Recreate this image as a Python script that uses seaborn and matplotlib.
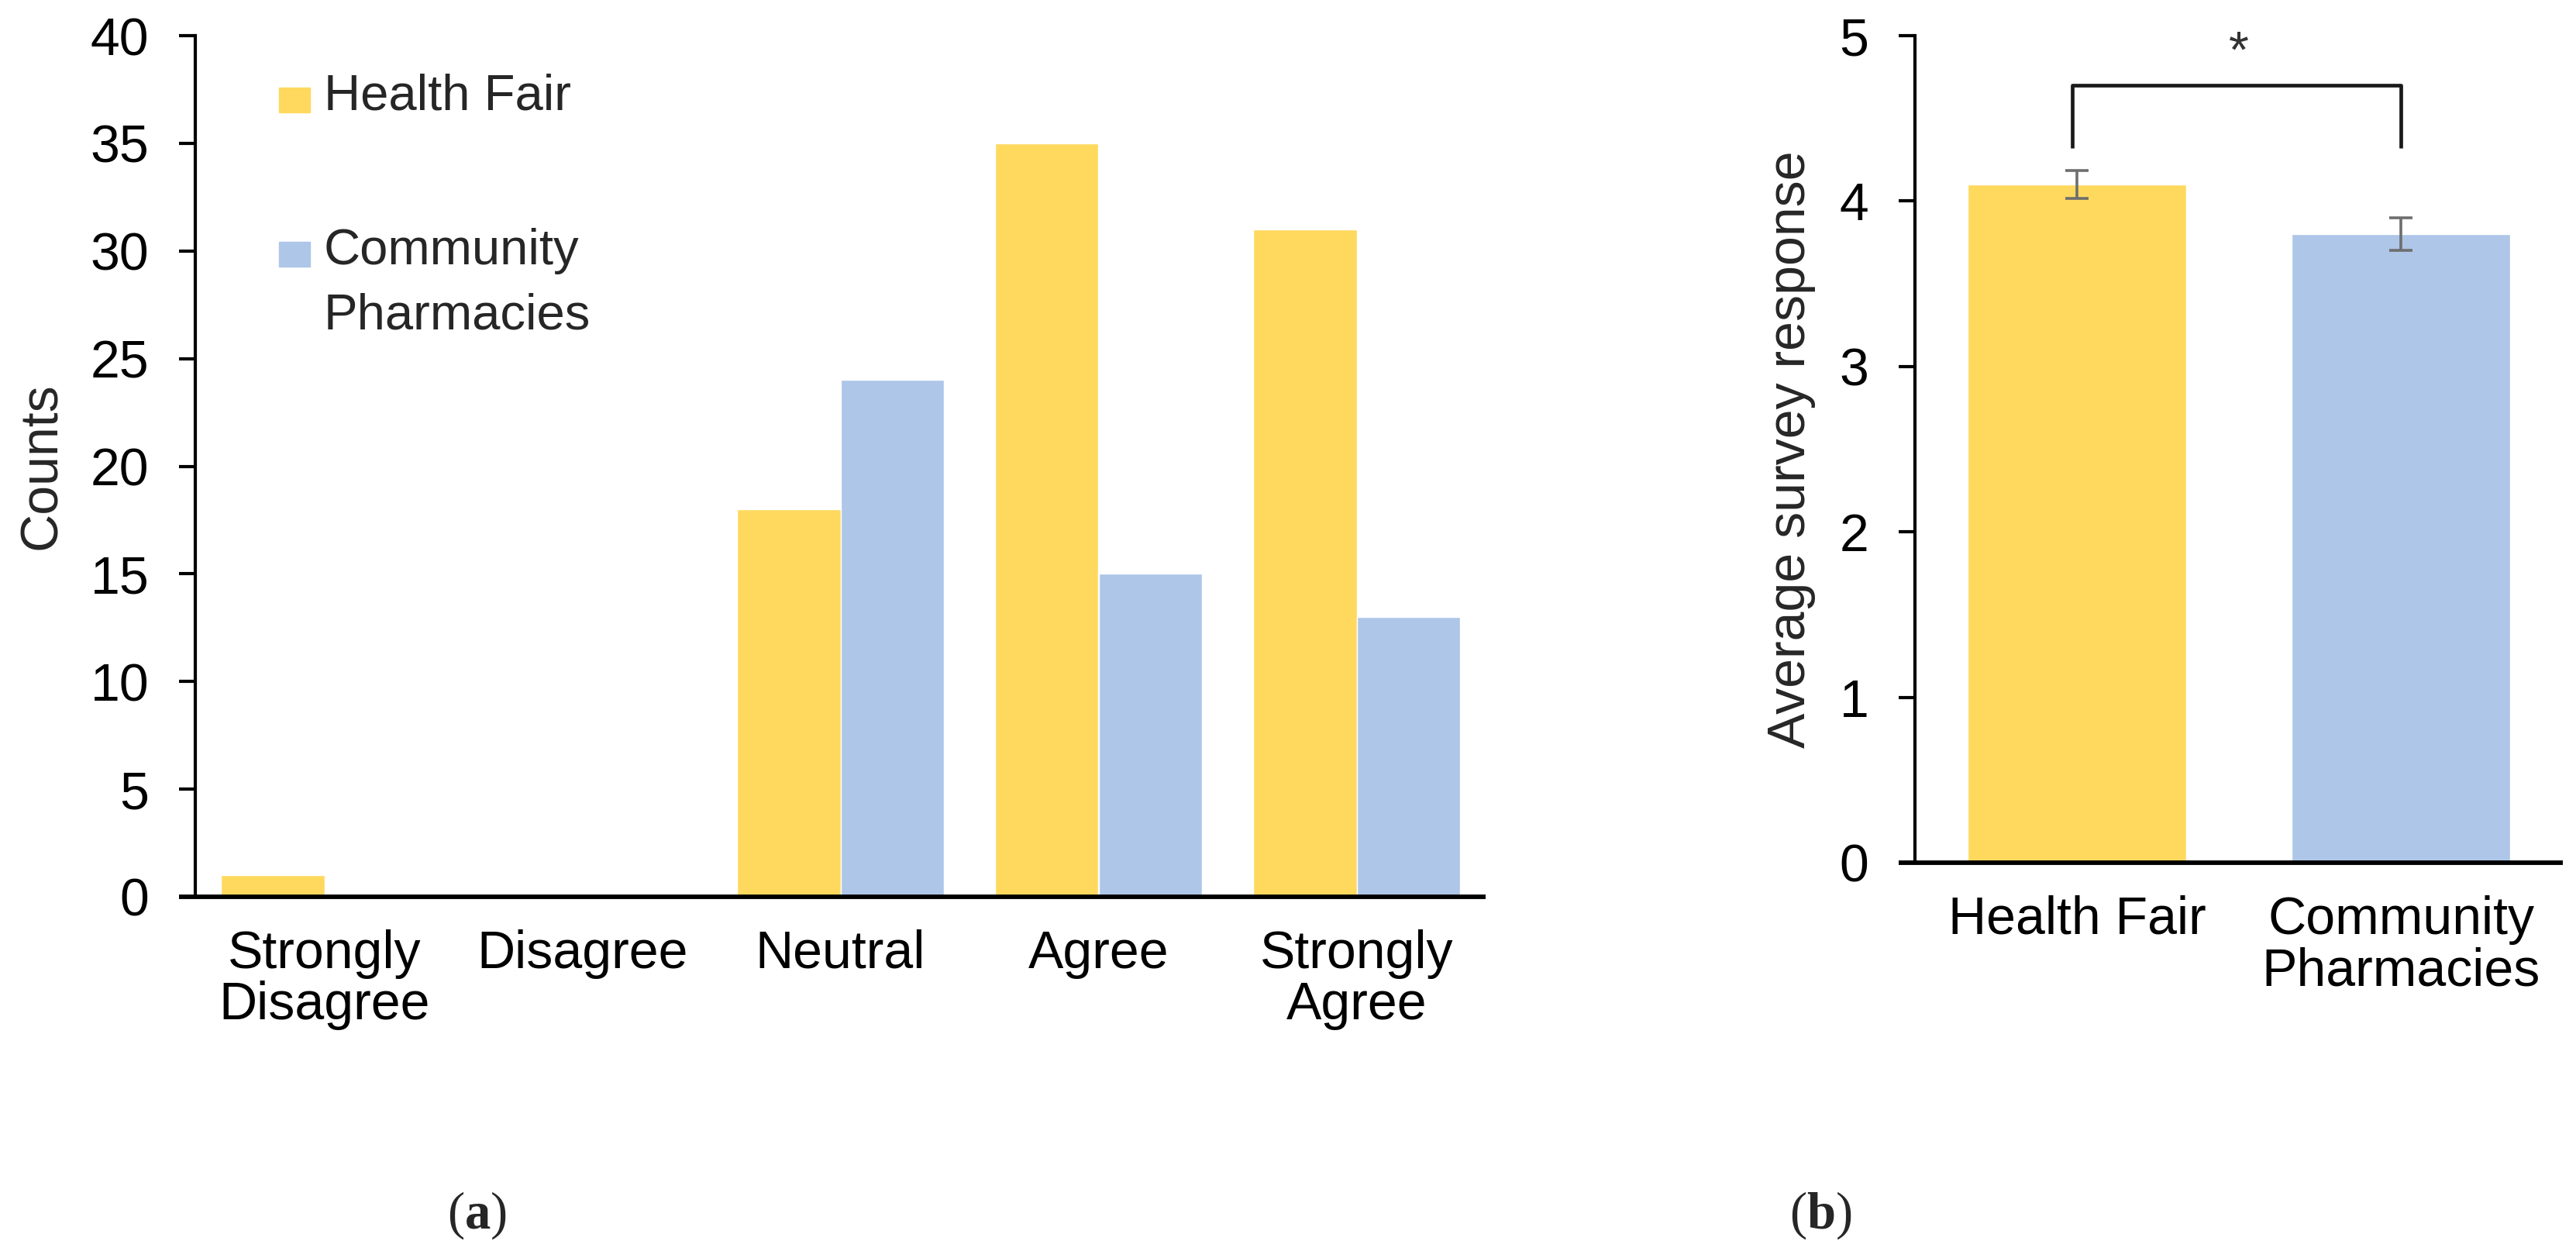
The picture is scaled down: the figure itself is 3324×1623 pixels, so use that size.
import matplotlib
matplotlib.use('Agg')
import matplotlib.pyplot as plt
import seaborn as sns
import pandas as pd
from matplotlib.patches import Rectangle

# 数据
categories = ['Strongly\nDisagree', 'Disagree', 'Neutral', 'Agree', 'Strongly\nAgree']
health_fair = [1, 0, 18, 35, 31]
community = [0, 0, 24, 15, 13]
groups = ['Health Fair', 'Community\nPharmacies']
avg_response = [4.1, 3.8]
avg_err = [0.085, 0.10]

YELLOW = '#FFD95E'
BLUE = '#AEC6E8'

sns.set_theme(style='white')
plt.rcParams['font.family'] = ['Liberation Sans', 'DejaVu Sans']
plt.rcParams['mathtext.fontset'] = 'custom'
plt.rcParams['mathtext.rm'] = 'Liberation Serif'
plt.rcParams['mathtext.bf'] = 'Liberation Serif:bold'

W, H = 33.24, 16.23
FS = 49
LW = 3.0
TICK_LEN = 15

fig = plt.figure(figsize=(W, H), dpi=100)
# 轴位置 (像素换算成比例)
ax1 = fig.add_axes([252 / 3324, 1 - 1157 / 1623, 1665 / 3324, 1111 / 1623])
ax2 = fig.add_axes([2471 / 3324, 1 - 1113 / 1623, 836 / 3324, 1067 / 1623])

# ============ (a) 计数柱状图 ============
df = pd.DataFrame({
    'category': categories * 2,
    'count': health_fair + community,
    'group': ['Health Fair'] * 5 + ['Community Pharmacies'] * 5,
})
sns.barplot(data=df, x='category', y='count', hue='group', order=categories,
            palette=[YELLOW, BLUE], width=0.8, errorbar=None, saturation=1,
            legend=False, ax=ax1)
ax1.set_ylim(0, 40)
ax1.set_xlim(-0.5, 4.5)
ax1.set_yticks(range(0, 41, 5))
ax1.set_xlabel('')
ax1.set_ylabel('Counts', fontsize=FS, labelpad=22)

# 手动图例
for yy, col, lab in [(0.9136, YELLOW, 'Health Fair'), (0.7345, BLUE, 'Community\nPharmacies')]:
    ax1.add_patch(Rectangle((0.065, yy - 0.003), 0.024, 0.029, transform=ax1.transAxes,
                            color=col, clip_on=False))
    lines = lab.split('\n')
    for i, ln in enumerate(lines):
        ax1.text(0.0997, yy - i * 0.075, ln, transform=ax1.transAxes, fontsize=47,
                 va='baseline', ha='left')

# ============ (b) 平均分 ============
sns.barplot(x=groups, y=avg_response, palette=[YELLOW, BLUE], hue=groups,
            width=0.675, errorbar=None, saturation=1, legend=False, ax=ax2)
ax2.errorbar([0, 1], avg_response, yerr=avg_err, fmt='none', ecolor='#6e6e6e',
             elinewidth=2.6, capsize=11, capthick=2.6)
ax2.set_ylim(0, 5)
ax2.set_xlim(-0.5, 1.5)
ax2.set_yticks(range(0, 6))
ax2.set_ylabel('Average survey response', fontsize=FS, labelpad=22)
# 显著性括号
ax2.plot([-0.015, -0.015, 1.0, 1.0], [4.32, 4.7, 4.7, 4.32], color='#1a1a1a', lw=3.4,
         solid_capstyle='butt')
ax2.text(0.5, 4.89, '*', ha='center', va='center', fontsize=48, color='#333333')

for ax in (ax1, ax2):
    sns.despine(ax=ax)
    ax.spines['left'].set_linewidth(LW)
    ax.spines['left'].set_color('black')
    ax.spines['bottom'].set_visible(False)
    ax_w_px = ax.get_position().width * W * 100
    ext = TICK_LEN * 100 / 72 / ax_w_px
    ax.plot([-ext, 1], [0, 0], transform=ax.get_yaxis_transform(), color='black',
            lw=4.2, clip_on=False, solid_capstyle='butt')
    ax.tick_params(axis='y', left=True, length=TICK_LEN, width=LW, labelsize=FS, pad=28,
                   color='black', labelcolor='black')
    ax.tick_params(axis='x', bottom=False, length=0, labelsize=FS, pad=30, labelcolor='black')
    for lbl in ax.get_xticklabels():
        lbl.set_linespacing(1.05)

fig.text(0.185, 0.034, r'($\mathbf{a}$)', fontsize=48, family='Liberation Serif',
         ha='center', va='center')
fig.text(0.7067, 0.034, r'($\mathbf{b}$)', fontsize=48, family='Liberation Serif',
         ha='center', va='center')

fig.savefig('out.png', dpi=100, facecolor='white')
